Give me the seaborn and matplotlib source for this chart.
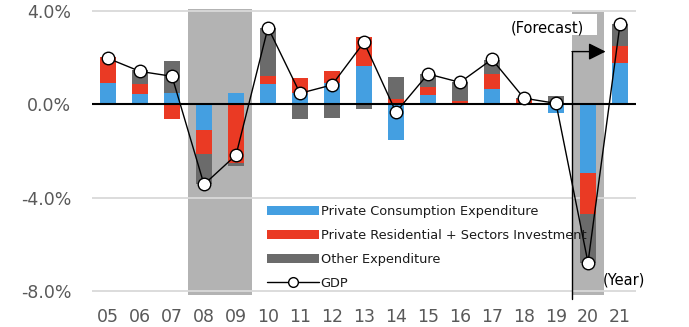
import numpy as np
import pandas as pd
import matplotlib
matplotlib.use("Agg")
import matplotlib.pyplot as plt
import seaborn as sns
from matplotlib.patches import Patch, Rectangle
from matplotlib.lines import Line2D

# ---------------- data ----------------
years = ['05', '06', '07', '08', '09', '10', '11', '12', '13', '14',
         '15', '16', '17', '18', '19', '20', '21']
consumption = [0.90, 0.43, 0.50, -1.10, 0.47, 0.87, 0.47, 0.93, 1.64, -1.53,
               0.40, 0.02, 0.64, 0.03, -0.36, -2.96, 1.76]
residential = [1.14, 0.43, -0.64, -1.04, -2.51, 0.34, 0.64, 0.50, 1.26, 0.21,
               0.36, 0.12, 0.66, 0.20, 0.00, -1.75, 0.74]
other = [0.00, 0.61, 1.37, -1.30, -0.14, 2.05, -0.64, -0.60, -0.21, 0.97,
         0.54, 0.80, 0.60, 0.02, 0.36, -2.10, 0.93]
gdp = [1.97, 1.41, 1.20, -3.44, -2.18, 3.29, 0.47, 0.83, 2.66, -0.34,
       1.30, 0.94, 1.93, 0.26, 0.04, -6.79, 3.43]
series_names = ['Private Consumption Expenditure',
                'Private Residential + Sectors Investment',
                'Other Expenditure']
line_name = 'GDP'
shaded_years = ['08', '09', '20']
forecast_year = '20'
yticks = [-8, -4, 0, 4]
ytick_labels = ['-8.0%', '-4.0%', '0.0%', '4.0%']

colors = ['#449fe1', '#ea3a24', '#6b6b6b']
shade_color = '#b3b3b3'
grid_color = '#d9d9d9'
tick_color = '#595959'

sns.set_theme(style='white')
plt.rcParams['font.family'] = ['DejaVu Sans']

fig = plt.figure(figsize=(6.89, 3.27), dpi=100)
ax = fig.add_axes([92 / 689, 1 - 295.4 / 327, 544 / 689, 286.7 / 327])

# stacked bars (positive and negative stacks separately), via overlap drawing
layers = [np.array(consumption), np.array(residential), np.array(other)]
pos_cum = np.cumsum([np.clip(l, 0, None) for l in layers], axis=0)
neg_cum = np.cumsum([np.clip(l, None, 0) for l in layers], axis=0)
for k in reversed(range(len(layers))):
    for cum in (pos_cum, neg_cum):
        df = pd.DataFrame({'year': years, 'value': cum[k]})
        sns.barplot(data=df, x='year', y='value', order=years, color=colors[k],
                    saturation=1, width=0.52, errorbar=None, ax=ax,
                    linewidth=0, zorder=2)

# GDP line
gdf = pd.DataFrame({'year': years, 'gdp': gdp})
sns.pointplot(data=gdf, x='year', y='gdp', order=years, color='black',
              errorbar=None, markers='o', markersize=9, linewidth=1,
              markerfacecolor='white', markeredgecolor='black',
              markeredgewidth=1, ax=ax, zorder=5)

# shaded periods
for yr in shaded_years:
    i = years.index(yr)
    top = 0.988 if yr == forecast_year else 1.0
    ax.axvspan(i - 0.5, i + 0.5, ymin=0, ymax=top, color=shade_color, lw=0,
               zorder=0.3)

ax.set_xlim(-0.5, len(years) - 0.5)
ax.set_ylim(-8.2, 4.1)
ax.set_yticks(yticks)
ax.set_yticklabels(ytick_labels)
ax.set_axisbelow(True)
ax.yaxis.grid(True, color=grid_color, lw=1.3, zorder=0.5)
ax.xaxis.grid(False)
ax.axhline(0, color='black', lw=1.5, zorder=3)
for s in ax.spines.values():
    s.set_visible(False)
ax.tick_params(axis='y', length=0, pad=15, labelsize=12.5, labelcolor=tick_color)
ax.tick_params(axis='x', length=0, pad=9, labelsize=12.5, labelcolor=tick_color)
ax.set_xlabel('')
ax.set_ylabel('')

# forecast marker
fi = years.index(forecast_year)
arrow_y = 2.26
ax.plot([fi - 0.5, fi - 0.5], [arrow_y, -8.35], color='black', lw=1.0,
        clip_on=False, zorder=6)
ax.annotate('', xy=(fi + 0.55, arrow_y), xytext=(fi - 0.5, arrow_y),
            arrowprops=dict(arrowstyle='-|>', color='black', lw=1.0,
                            mutation_scale=26, shrinkA=0, shrinkB=0),
            zorder=6)
# white label background for "(Forecast)"
ax.add_patch(Rectangle((fi - 2.59, 2.98), 2.87, 0.9, facecolor='white',
                       edgecolor='none', zorder=6.5))
ax.text(fi - 1.28, 3.28, '(Forecast)', ha='center', va='center', fontsize=10.5,
        color='black', zorder=7)
ax.text(fi + 0.47, -7.56, '(Year)', ha='left', va='center', fontsize=10.5,
        color='black', zorder=7)

# legend
handles = [Patch(facecolor=c, edgecolor='none') for c in colors]
handles.append(Line2D([0], [0], color='black', lw=1, marker='o',
                      markersize=7, markerfacecolor='white',
                      markeredgecolor='black'))
leg = ax.legend(handles, series_names + [line_name], loc='upper left',
                bbox_to_anchor=(267 / 689, 1 - 205 / 327),
                bbox_transform=fig.transFigure, frameon=False, fontsize=9.3,
                handlelength=4.0, handleheight=0.75, handletextpad=0.15,
                labelspacing=0.85, borderpad=0, borderaxespad=0)
for t in leg.get_texts():
    t.set_color('#1a1a1a')
leg.set_zorder(8)

fig.savefig('out.png', dpi=100)
